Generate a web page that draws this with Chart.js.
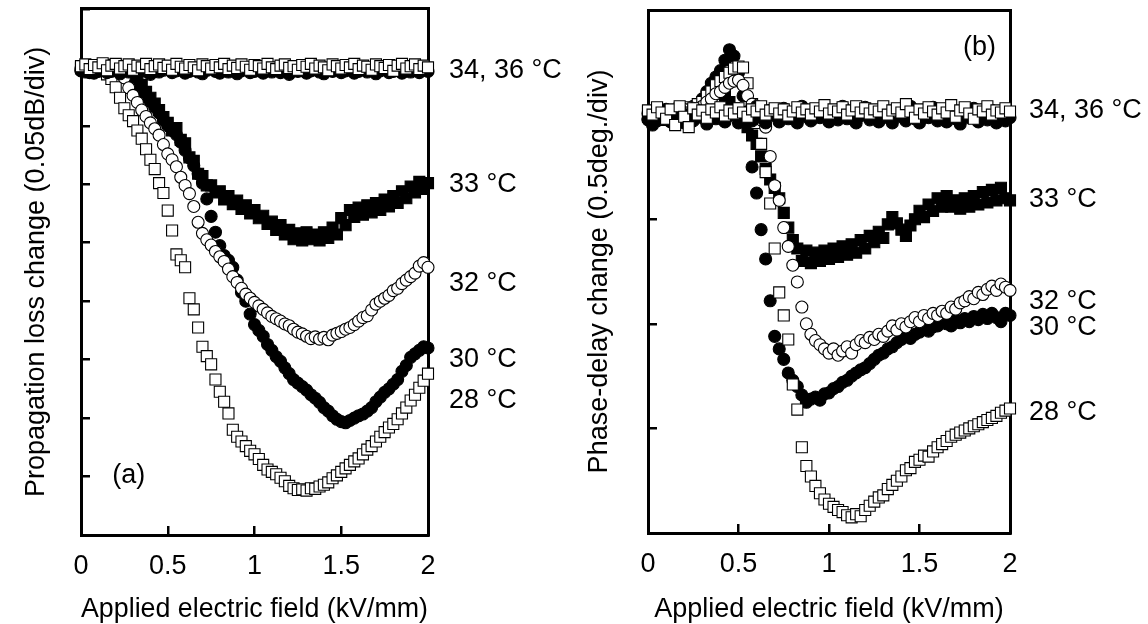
<!DOCTYPE html>
<html><head><meta charset="utf-8">
<script src="https://cdn.jsdelivr.net/npm/chart.js@4/dist/chart.umd.min.js"></script>
<style>
html,body{margin:0;padding:0;background:#fff;}
#wrap{position:relative;width:1148px;height:624px;overflow:hidden;}
.c{position:absolute;top:0;width:574px;height:624px;}
</style></head><body>
<div id="wrap">
<div class="c" style="left:0"><canvas id="ca" width="574" height="624"></canvas></div>
<div class="c" style="left:574px"><canvas id="cb" width="574" height="624"></canvas></div>
</div>
<script>
// Applied electric field (kV/mm)
const fieldKV = [
0,0.025,0.05,0.075,0.1,0.125,0.15,0.175,0.2,0.225,
0.25,0.275,0.3,0.325,0.35,0.375,0.4,0.425,0.45,0.475,
0.5,0.525,0.55,0.575,0.6,0.625,0.65,0.675,0.7,0.725,
0.75,0.775,0.8,0.825,0.85,0.875,0.9,0.925,0.95,0.975,
1,1.025,1.05,1.075,1.1,1.125,1.15,1.175,1.2,1.225,
1.25,1.275,1.3,1.325,1.35,1.375,1.4,1.425,1.45,1.475,
1.5,1.525,1.55,1.575,1.6,1.625,1.65,1.675,1.7,1.725,
1.75,1.775,1.8,1.825,1.85,1.875,1.9,1.925,1.95,1.975,
2];

// Panel (a): propagation loss change, in divisions (0.05 dB/div)
const lossT36 = [
8.02,8.05,7.97,8.04,8.00,8.07,7.95,8.03,8.06,7.98,
8.02,8.05,7.96,8.03,8.00,8.06,7.97,8.02,8.05,7.99,
8.03,7.96,8.06,8.01,7.98,8.04,8.00,7.95,8.05,8.02,
7.98,8.04,8.00,8.06,7.97,8.03,7.99,8.05,8.01,7.96,
8.04,8.02,7.98,8.06,8.00,7.97,8.03,8.05,7.99,8.02,
7.96,8.04,8.01,8.06,7.98,8.03,8.00,7.95,8.05,8.02,
7.98,8.04,8.00,8.06,7.97,8.03,8.01,7.96,8.05,8.02,
7.99,8.04,7.94,8.03,8.06,7.98,8.02,8.05,7.97,8.03,
8.00];
const lossT34 = [
7.95,7.92,7.97,7.90,7.94,7.98,7.91,7.93,7.96,7.89,
7.94,7.92,7.97,7.90,7.95,7.93,7.88,7.96,7.92,7.95,
7.99,7.91,7.94,7.97,7.90,7.93,7.96,7.92,7.89,7.95,
7.98,7.93,7.90,7.96,7.92,7.95,7.89,7.94,7.97,7.91,
7.93,7.96,7.90,7.95,7.92,7.98,7.91,7.94,7.88,7.95,
7.93,7.97,7.90,7.94,7.96,7.92,7.89,7.95,7.93,7.97,
7.91,7.94,7.96,7.90,7.93,7.97,7.92,7.95,7.89,7.94,
7.96,7.91,7.93,7.97,7.90,7.94,7.92,7.96,7.91,7.95,
7.93];
const lossT33 = [
7.98,8.02,7.96,8.04,7.99,8.03,7.97,8.01,8.05,7.98,
8.00,7.95,7.90,7.80,7.70,7.58,7.48,7.38,7.27,7.15,
7.05,6.92,6.96,6.76,6.70,6.46,6.40,6.18,6.14,5.98,
5.98,5.86,5.88,5.74,5.80,5.66,5.72,5.58,5.64,5.50,
5.56,5.42,5.46,5.32,5.36,5.22,5.30,5.14,5.22,5.06,
5.16,5.04,5.18,5.06,5.14,5.04,5.18,5.08,5.26,5.14,
5.42,5.30,5.56,5.44,5.60,5.48,5.64,5.52,5.68,5.56,
5.74,5.62,5.80,5.68,5.88,5.76,5.96,5.86,6.04,5.92,
6.02];
const lossT32 = [
7.99,8.02,7.96,8.03,8.00,7.97,8.04,7.98,8.01,7.93,
7.82,7.65,7.52,7.40,7.27,7.16,7.05,6.95,6.84,6.68,
6.52,6.42,6.30,6.12,5.98,5.84,5.62,5.35,5.16,5.05,
4.96,4.85,4.76,4.68,4.55,4.42,4.32,4.22,4.12,4.05,
3.98,3.92,3.86,3.80,3.74,3.70,3.66,3.61,3.58,3.52,
3.47,3.44,3.40,3.36,3.39,3.35,3.38,3.34,3.42,3.45,
3.48,3.52,3.55,3.60,3.66,3.72,3.75,3.85,3.95,4.00,
4.05,4.10,4.18,4.22,4.30,4.36,4.42,4.48,4.60,4.66,
4.58];
const lossT30 = [
7.94,7.97,7.91,7.99,7.93,7.96,7.90,7.98,7.95,7.92,
7.97,7.93,7.82,7.70,7.60,7.50,7.42,7.32,7.22,7.10,
7.00,6.92,6.85,6.72,6.58,6.45,6.32,6.18,6.02,5.75,
5.45,5.18,4.95,4.78,4.70,4.58,4.36,4.15,4.00,3.78,
3.60,3.50,3.40,3.26,3.16,3.05,2.97,2.86,2.76,2.66,
2.60,2.54,2.48,2.40,2.34,2.27,2.18,2.12,2.04,1.98,
1.94,1.92,1.96,2.00,2.04,2.07,2.12,2.18,2.28,2.36,
2.44,2.50,2.58,2.66,2.80,2.90,3.04,3.10,3.16,3.22,
3.20];
const lossT28 = [
8.01,7.97,8.04,7.99,8.03,7.96,7.88,7.80,7.66,7.48,
7.30,7.18,7.08,6.92,6.78,6.60,6.42,6.26,6.02,5.85,
5.55,5.21,4.80,4.70,4.58,4.05,3.86,3.55,3.22,3.06,
2.92,2.66,2.45,2.28,2.08,1.80,1.68,1.60,1.52,1.44,
1.38,1.30,1.20,1.12,1.08,1.04,0.98,0.92,0.84,0.80,
0.77,0.78,0.76,0.80,0.79,0.83,0.86,0.90,0.97,1.02,
1.08,1.14,1.20,1.26,1.31,1.38,1.46,1.52,1.60,1.68,
1.76,1.84,1.90,1.98,2.08,2.18,2.30,2.40,2.52,2.64,
2.76];

// Panel (b): phase-delay change, in divisions (0.5 deg/div)
const phaseT36 = [
4.04,4.00,4.07,4.02,3.96,4.05,3.90,4.08,3.98,3.88,
4.06,4.00,4.04,3.97,4.05,4.02,4.07,3.99,4.04,4.01,
4.06,4.02,3.98,4.05,4.03,4.08,4.00,4.04,4.06,4.01,
4.05,3.99,4.03,4.07,4.02,4.05,4.00,4.06,4.03,4.09,
4.01,4.05,4.03,4.07,4.00,4.04,4.08,4.02,4.06,4.01,
4.05,4.03,4.08,4.00,4.04,4.06,4.02,4.10,4.03,3.97,
4.05,4.01,4.07,4.03,4.00,4.06,4.02,4.09,3.98,4.04,
4.07,4.01,3.96,4.05,4.03,4.08,4.00,4.04,4.02,4.06,
4.03];
const phaseT34 = [
3.95,3.90,4.02,3.96,4.05,3.93,3.98,4.06,3.92,4.00,
3.94,4.04,3.97,3.91,4.03,3.96,4.01,3.93,3.99,4.05,
3.92,3.98,4.03,3.94,4.08,3.97,3.92,4.04,3.99,3.93,
4.06,3.96,4.01,3.92,4.08,3.98,3.94,4.03,3.97,4.07,
3.93,4.00,3.95,4.08,3.96,4.02,3.92,3.99,4.07,3.95,
4.01,3.93,4.06,3.97,3.92,4.04,3.98,3.94,4.08,3.96,
3.92,4.03,3.97,4.07,3.94,4.00,3.93,4.05,3.96,3.91,
4.02,3.97,4.06,3.93,4.00,3.95,4.04,3.92,3.98,3.94,
3.97];
const phaseT33 = [
3.98,4.02,3.96,4.03,4.00,3.97,4.04,3.99,4.02,4.05,
4.03,4.08,4.10,4.14,4.18,4.20,4.22,4.18,4.12,4.06,
4.00,3.95,3.88,3.80,3.72,3.60,3.48,3.38,3.30,3.20,
3.06,2.92,2.80,2.72,2.60,2.70,2.58,2.68,2.60,2.70,
2.62,2.72,2.64,2.74,2.66,2.76,2.68,2.80,2.72,2.84,
2.78,2.88,2.82,2.95,3.02,2.96,2.90,2.84,2.94,3.00,
3.08,3.02,3.14,3.08,3.20,3.12,3.22,3.12,3.18,3.10,
3.20,3.12,3.22,3.14,3.26,3.16,3.28,3.18,3.30,3.20,
3.18];
const phaseT32 = [
4.01,3.97,4.04,3.99,4.02,3.96,4.03,4.00,4.05,4.02,
4.06,4.04,4.08,4.12,4.15,4.20,4.22,4.26,4.30,4.32,
4.33,4.28,4.18,4.10,4.02,3.95,3.88,3.60,3.32,3.18,
2.92,2.74,2.56,2.40,2.16,2.00,1.90,1.84,1.80,1.76,
1.72,1.76,1.70,1.74,1.78,1.72,1.80,1.84,1.82,1.87,
1.85,1.90,1.88,1.93,1.98,1.94,2.00,1.97,2.02,2.06,
2.02,2.08,2.05,2.10,2.08,2.12,2.10,2.16,2.14,2.20,
2.22,2.26,2.24,2.30,2.28,2.33,2.36,2.32,2.38,2.35,
2.32];
const phaseT30 = [
3.96,4.00,3.94,4.03,3.98,3.95,4.02,3.97,4.01,4.05,
4.08,4.10,4.15,4.22,4.30,4.36,4.42,4.52,4.62,4.56,
4.40,4.18,3.92,3.50,3.25,2.90,2.62,2.22,1.88,1.76,
1.66,1.53,1.46,1.40,1.32,1.25,1.28,1.30,1.27,1.33,
1.34,1.38,1.40,1.44,1.46,1.50,1.53,1.56,1.58,1.62,
1.66,1.70,1.72,1.76,1.78,1.82,1.85,1.88,1.86,1.90,
1.92,1.95,1.93,1.97,1.98,2.02,2.00,1.98,2.04,2.01,
2.05,2.02,2.07,2.04,2.09,2.05,2.10,2.06,2.02,2.10,
2.08];
const phaseT28 = [
4.03,3.98,4.05,4.00,3.95,4.04,3.99,4.06,4.02,4.07,
4.05,4.10,4.12,4.18,4.22,4.28,4.32,4.36,4.40,4.44,
4.46,4.45,4.30,4.10,3.92,3.72,3.45,3.15,2.72,2.30,
2.08,1.85,1.42,1.18,0.82,0.64,0.54,0.45,0.38,0.32,
0.28,0.25,0.22,0.20,0.17,0.15,0.18,0.16,0.22,0.26,
0.30,0.34,0.36,0.42,0.46,0.50,0.54,0.60,0.62,0.68,
0.70,0.74,0.73,0.78,0.82,0.85,0.88,0.92,0.94,0.96,
0.98,1.00,1.02,1.04,1.06,1.08,1.10,1.12,1.15,1.17,
1.19];

// Curve labels at the right of each panel, and their vertical positions (div)
const tempLabels = ['34, 36 °C', '33 °C', '32 °C', '30 °C', '28 °C'];
const labelPosA = [7.95, 6.0, 4.3, 3.0, 2.3];
const labelPosB = [4.04, 3.19, 2.21, 1.96, 1.15];
const xTicks = [0, 0.5, 1, 1.5, 2];
const xTickLabels = ['0', '0.5', '1', '1.5', '2'];

const FONT = '"Liberation Sans", Arial, Helvetica, sans-serif';
Chart.defaults.font.family = FONT;
Chart.defaults.color = '#000';

const STY = {
  openSq:   {pointStyle:'rect',   pointRadius:7.8, backgroundColor:'#fff'},
  fillSq:   {pointStyle:'rect',   pointRadius:7.8, backgroundColor:'#000'},
  openCirc: {pointStyle:'circle', pointRadius:6,   backgroundColor:'#fff'},
  fillCirc: {pointStyle:'circle', pointRadius:6,   backgroundColor:'#000'}
};
function ds(label, vals, sty){
  return Object.assign({
    label,
    data: fieldKV.map((x,i)=>({x, y: vals[i]})),
    borderColor:'#000', pointBorderWidth:1.1, showLine:false, clip:false
  }, STY[sty]);
}

const panelLabel = {
  id:'panelLabel',
  afterDatasetsDraw(chart, args, o){
    const {ctx} = chart; const x = chart.scales.x, y = chart.scales.y;
    ctx.save();
    ctx.font = o.size + 'px ' + FONT;
    ctx.fillStyle = '#000'; ctx.textAlign = 'left'; ctx.textBaseline = 'middle';
    ctx.fillText(o.text, x.getPixelForValue(o.x), y.getPixelForValue(o.y));
    ctx.restore();
  }
};

function noPad(s){ s.paddingTop = 0; s.paddingBottom = 0; s.paddingLeft = 0; s.paddingRight = 0; }

function makeChart(id, cfg){
  const frame = {display:true, width:3, color:'#000'};
  return new Chart(document.getElementById(id), {
    type:'scatter',
    data:{datasets: cfg.datasets},
    options:{
      responsive:false, animation:false, events:[],
      layout:{padding:{top:cfg.top, left:0, right:0, bottom:0}},
      plugins:{legend:{display:false}, tooltip:{enabled:false}, panelLabel:cfg.panel},
      scales:{
        x:{type:'linear', position:'bottom', min:0, max:2,
           afterBuildTicks:s=>{ s.ticks = xTicks.map(v=>({value:v})); },
           ticks:{callback:(v,i)=>xTickLabels[i], font:{size:27, lineHeight:1}, color:'#000', padding:cfg.xPad, maxRotation:0, autoSkip:false},
           grid:{drawOnChartArea:false, tickLength:-9, lineWidth:2.5, color:'#000'},
           border:frame,
           title:{display:true, text:'Applied electric field (kV/mm)', font:{size:27, lineHeight:1}, color:'#000', padding:{top:0, bottom:cfg.xTitlePad}},
           afterFit:s=>{ s.height = cfg.xH; noPad(s); }},
        xTop:{type:'linear', position:'top', min:0, max:2,
           ticks:{display:false}, grid:{drawOnChartArea:false, drawTicks:false},
           border:frame, afterFit:s=>{ s.height = 0; noPad(s); }},
        y:{type:'linear', position:'left', min:0, max:cfg.yMax,
           ticks:{display:false, stepSize:1},
           grid:{drawOnChartArea:false, tickLength:-9, lineWidth:2.5, color:'#000'},
           border:frame,
           title:{display:true, text:cfg.yTitle, font:{size:27, lineHeight:1}, color:'#000', padding:{top:cfg.yTitlePad, bottom:0}},
           afterFit:s=>{ s.width = cfg.yW; noPad(s); }},
        yR:{type:'linear', position:'right', min:0, max:cfg.yMax,
           afterBuildTicks:s=>{ s.ticks = cfg.labelPos.map(v=>({value:v})); },
           ticks:{callback:(v,i)=>tempLabels[i], font:{size:27}, color:'#000', padding:cfg.rPad, autoSkip:false},
           grid:{drawOnChartArea:false, drawTicks:false},
           border:frame,
           afterFit:s=>{ s.width = cfg.rW; noPad(s); }}
      }
    },
    plugins:[panelLabel]
  });
}

makeChart('ca', {
  top:8, yW:81, rW:146, xH:89, yMax:9, xPad:27, xTitlePad:1, yTitlePad:23, rPad:21,
  yTitle:'Propagation loss change (0.05dB/div)',
  labelPos:labelPosA,
  panel:{text:'(a)', x:0.18, y:1.02, size:27},
  datasets:[
    ds('36 °C', lossT36, 'openSq'),
    ds('34 °C', lossT34, 'fillCirc'),
    ds('32 °C', lossT32, 'openCirc'),
    ds('28 °C', lossT28, 'openSq'),
    ds('30 °C', lossT30, 'fillCirc'),
    ds('33 °C', lossT33, 'fillSq')
  ]
});
makeChart('cb', {
  top:10, yW:74, rW:138, xH:91, yMax:5, xPad:27, xTitlePad:1, yTitlePad:12, rPad:19,
  yTitle:'Phase-delay change (0.5deg./div)',
  labelPos:labelPosB,
  panel:{text:'(b)', x:1.74, y:4.64, size:27},
  datasets:[
    ds('36 °C', phaseT36, 'openSq'),
    ds('34 °C', phaseT34, 'fillCirc'),
    ds('32 °C', phaseT32, 'openCirc'),
    ds('28 °C', phaseT28, 'openSq'),
    ds('30 °C', phaseT30, 'fillCirc'),
    ds('33 °C', phaseT33, 'fillSq')
  ]
});
</script>
</body></html>
